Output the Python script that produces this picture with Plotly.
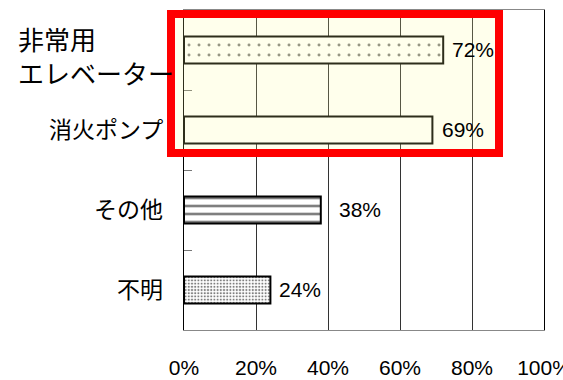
import plotly.graph_objects as go

categories = ["非常用エレベーター", "消火ポンプ", "その他", "不明"]
label_lines = [["非常用", "エレベーター"], ["消火ポンプ"], ["その他"], ["不明"]]
values = [72, 69, 38, 24]
value_labels = ["72%", "69%", "38%", "24%"]
x_ticks = [0, 20, 40, 60, 80, 100]
x_tick_labels = ["0%", "20%", "40%", "60%", "80%", "100%"]

pattern_shapes = [".", "", "-", "."]
pattern_sizes = [10, 8, 8, 3.2]
pattern_solid = [0.07, 0.3, 0.33, 0.35]
label_xshift = [7, 8, 16, 7]

NUM_FONT = "Liberation Sans, Arial, sans-serif"
JP_FONT = "Noto Sans CJK JP, sans-serif"

fig = go.Figure()
fig.add_trace(go.Bar(
    y=categories, x=values, orientation="h", width=0.34,
    marker=dict(
        color="white",
        line=dict(color="black", width=2),
        pattern=dict(shape=pattern_shapes, size=pattern_sizes,
                     solidity=pattern_solid, fgcolor="black", bgcolor="white",
                     fillmode="overlay"),
    ),
    hoverinfo="skip",
))

annotations = []
for cat, v, t, xs in zip(categories, values, value_labels, label_xshift):
    annotations.append(dict(x=v, y=cat, xref="x", yref="y", text=t,
                            showarrow=False, xanchor="left", xshift=xs, yshift=1,
                            font=dict(family=NUM_FONT, size=21, color="black")))

# category labels
for cat, lines in zip(categories, label_lines):
    if len(lines) > 1:
        annotations.append(dict(x=0, y=cat, xref="paper", yref="y",
                                text="<br>".join(lines), align="left",
                                showarrow=False, xanchor="left", xshift=-168, yshift=-5,
                                font=dict(family=JP_FONT, size=26, color="black")))
    else:
        annotations.append(dict(x=0, y=cat, xref="paper", yref="y", text=lines[0],
                                showarrow=False, xanchor="right", xshift=-19, yshift=2,
                                font=dict(family=JP_FONT, size=23, color="black")))

fig.update_layout(
    width=563, height=380,
    margin=dict(l=184, r=19, t=10, b=50),
    paper_bgcolor="white", plot_bgcolor="white",
    showlegend=False,
    annotations=annotations,
    xaxis=dict(range=[0, 100], tickvals=x_ticks, ticktext=x_tick_labels,
               showgrid=True, gridcolor="#333333", gridwidth=1,
               showline=True, linecolor="#888888", linewidth=1, mirror=True,
               ticks="", ticklabelstandoff=19, zeroline=False,
               automargin=False, ticklabeloverflow="allow",
               tickfont=dict(family=NUM_FONT, size=21, color="black"),
               fixedrange=True),
    yaxis=dict(range=[len(categories) - 0.5, -0.5], type="category",
               showticklabels=False, tickson="boundaries",
               ticks="inside", ticklen=8, tickcolor="#777777",
               showgrid=False, showline=True, linecolor="black", linewidth=1,
               mirror=True, fixedrange=True, automargin=False),
    shapes=[dict(type="rect", xref="paper", yref="paper",
                 x0=(171 - 184) / 360, x1=(499 - 184) / 360,
                 y0=(330 - 153) / 320, y1=(330 - 14) / 320,
                 line=dict(color="#FF0000", width=8),
                 fillcolor="rgba(255,255,150,0.18)", layer="above")],
)

fig.write_html("out.html")
